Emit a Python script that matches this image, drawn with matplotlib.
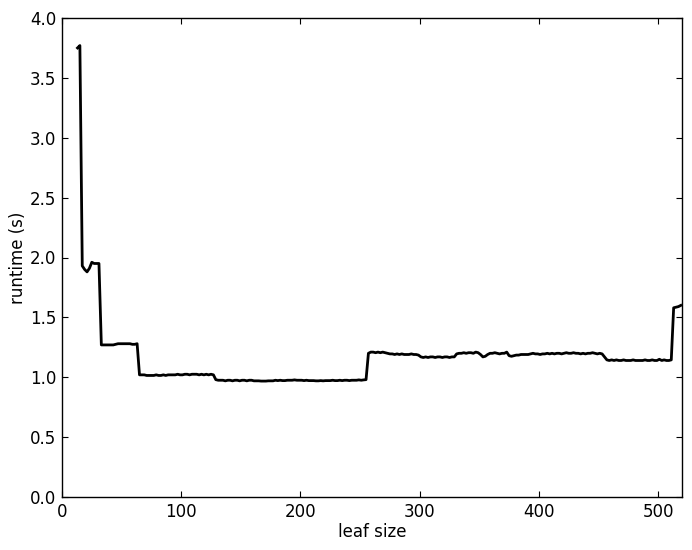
import numpy as np
import matplotlib
matplotlib.use("Agg")
import matplotlib.pyplot as plt

# leaf sizes (odd values 13..519)
leaf_size = list(range(13, 520, 2))

seg_a = [3.75, 3.77, 1.93, 1.90, 1.88, 1.91, 1.96, 1.95, 1.95, 1.95]  # 13..31
seg_b = [1.27, 1.27, 1.27, 1.27, 1.27, 1.27, 1.275, 1.28,
         1.28, 1.28, 1.28, 1.28, 1.28, 1.275, 1.275, 1.28]  # 33..63
seg_c = [1.02, 1.02, 1.02, 1.015, 1.015, 1.015, 1.015, 1.02,
         1.015, 1.015, 1.02, 1.015, 1.02, 1.02, 1.02, 1.02,
         1.025, 1.02, 1.02, 1.025, 1.025, 1.02, 1.025, 1.025,
         1.025, 1.02, 1.025, 1.02, 1.025, 1.02, 1.025, 1.02]  # 65..127
seg_d = [0.98, 0.975, 0.975, 0.975, 0.97, 0.975, 0.975, 0.97,
         0.975, 0.975, 0.97, 0.975, 0.975, 0.97, 0.975, 0.975,
         0.97, 0.97, 0.97, 0.968, 0.968, 0.968, 0.97, 0.97,
         0.97, 0.975, 0.972, 0.975, 0.972, 0.972, 0.975, 0.975,
         0.975, 0.978, 0.975, 0.975, 0.975, 0.972, 0.975, 0.972,
         0.972, 0.972, 0.97, 0.97, 0.972, 0.97, 0.972, 0.972,
         0.972, 0.975, 0.972, 0.972, 0.975, 0.972, 0.975, 0.975,
         0.972, 0.975, 0.975, 0.975, 0.978, 0.975, 0.978, 0.98]  # 129..255
seg_e = [1.20, 1.21, 1.21, 1.205, 1.21, 1.205, 1.21, 1.205,
         1.20, 1.195, 1.195, 1.19, 1.195, 1.19, 1.195, 1.19,
         1.19, 1.19, 1.195, 1.19, 1.19, 1.185]  # 257..299
seg_f = [1.17, 1.165, 1.17, 1.165, 1.17, 1.17, 1.165, 1.17,
         1.17, 1.165, 1.17, 1.17, 1.165, 1.17, 1.17]  # 301..329
seg_g = [1.195, 1.20, 1.20, 1.205, 1.20, 1.205, 1.205, 1.20,
         1.21, 1.205, 1.19, 1.17, 1.175, 1.19, 1.20, 1.20,
         1.205, 1.20, 1.195, 1.20, 1.20, 1.21, 1.18, 1.175,
         1.18, 1.185, 1.185, 1.19, 1.19, 1.19, 1.19, 1.195,
         1.20, 1.195, 1.195, 1.19, 1.195, 1.195, 1.20, 1.195,
         1.20, 1.195, 1.20, 1.20, 1.195, 1.20, 1.205, 1.20,
         1.20, 1.205, 1.20, 1.20, 1.195, 1.20, 1.195, 1.20,
         1.20, 1.205, 1.20, 1.195, 1.20, 1.195, 1.17]  # 331..455
seg_h = [1.145, 1.14, 1.145, 1.14, 1.145, 1.14, 1.14,
         1.145, 1.14, 1.14, 1.14, 1.145, 1.14, 1.14,
         1.14, 1.14, 1.145, 1.14, 1.14, 1.145, 1.14,
         1.14, 1.15, 1.14, 1.145, 1.14, 1.14, 1.145]  # 457..511
seg_i = [1.58, 1.585, 1.59, 1.60]  # 513..519

runtime = seg_a + seg_b + seg_c + seg_d + seg_e + seg_f + seg_g + seg_h + seg_i

x_ticks = [0, 100, 200, 300, 400, 500]
y_ticks = [0.0, 0.5, 1.0, 1.5, 2.0, 2.5, 3.0, 3.5, 4.0]

plt.rcParams['font.family'] = ['DejaVu Sans']
plt.rcParams['font.size'] = 12

fig = plt.figure(figsize=(6.92, 5.5), dpi=100)
ax = fig.add_axes([62/692, 53/550, 620/692, 479/550])
n = min(len(leaf_size), len(runtime))
ax.plot(leaf_size[:n], runtime[:n], color='black', linewidth=2.0)
ax.set_xlim(0, 520)
ax.set_ylim(0, 4.0)
ax.set_xticks(x_ticks)
ax.set_yticks(y_ticks)
ax.set_yticklabels([f"{v:.1f}" for v in y_ticks])
ax.tick_params(direction='in', top=True, right=True, length=4, width=0.8,
               labelsize=12, pad=4)
for s in ax.spines.values():
    s.set_linewidth(1.0)
ax.set_xlabel('leaf size', fontsize=12, labelpad=2)
ax.set_ylabel('runtime (s)', fontsize=12, labelpad=2)
fig.savefig('out.png', dpi=100, facecolor='white')
